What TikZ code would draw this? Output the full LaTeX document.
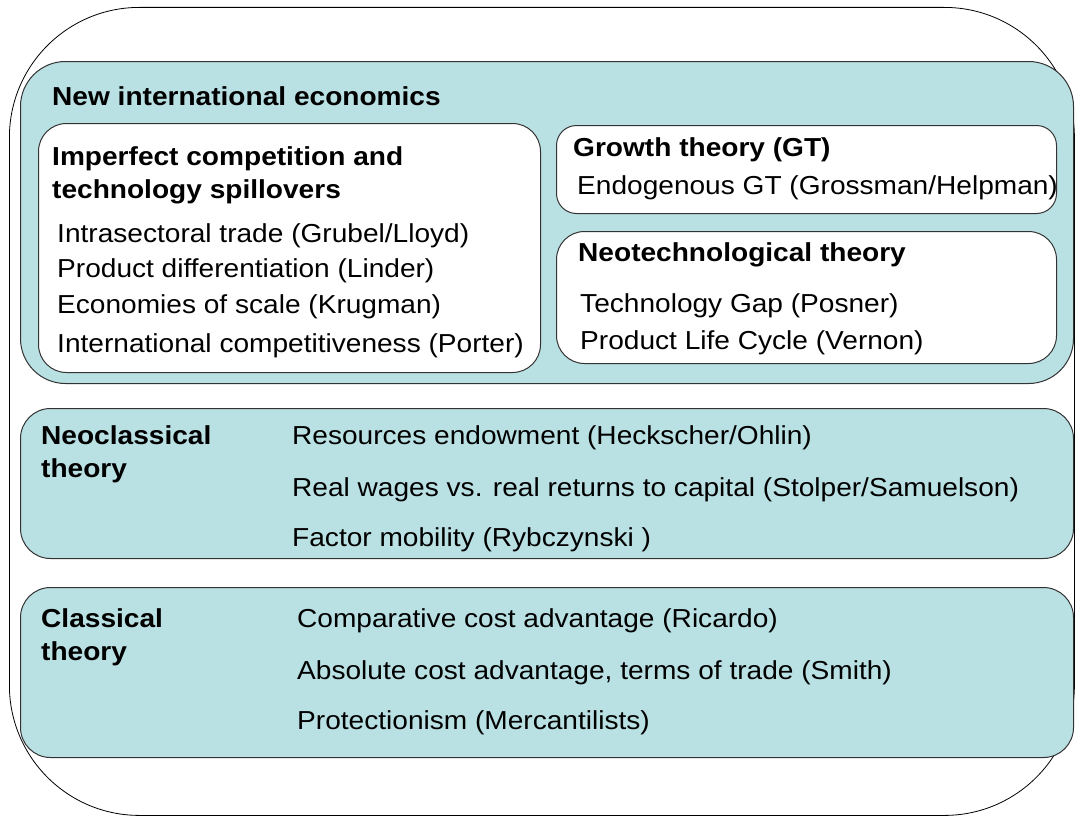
\documentclass[tikz,border=0pt]{standalone}
\usepackage{fontspec}
\setmainfont[FakeStretch=1.08]{Liberation Sans}
\definecolor{panelblue}{RGB}{185,224,227}
\tikzset{
	panel/.style={draw=black!80, fill=panelblue, line width=1pt, rounded corners=45pt, anchor=north west, inner sep=0pt},
	card/.style={draw=black!80, fill=white, line width=1pt, rounded corners=28pt, anchor=north west, inner sep=0pt},
	head/.style={anchor=west, inner sep=0pt, font=\fontsize{26}{33}\selectfont\bfseries, align=left},
	item/.style={anchor=west, inner sep=0pt, font=\fontsize{26}{32}\selectfont}
}
\begin{document}
\begin{tikzpicture}[x=1pt,y=-1pt]
\useasboundingbox (0,0) rectangle (1075,816);

% cadre exterieur
\node[draw=black, line width=0.8pt, rounded corners=130pt, anchor=north west, inner sep=0pt, minimum width=1065pt, minimum height=808pt] (outer) at (9,7) {};

% boites
\node[panel, minimum width=1053pt, minimum height=322pt] (newecon) at (20,61) {};
\node[card, minimum width=502pt, minimum height=249pt] (imperfect) at (38,123) {};
\node[card, rounded corners=20pt, minimum width=500pt, minimum height=88pt] (growth) at (556,125) {};
\node[card, minimum width=500pt, minimum height=132pt] (neotech) at (556,231) {};
\node[panel, rounded corners=30pt, minimum width=1053pt, minimum height=150pt] (neoclass) at (20,408) {};
\node[panel, rounded corners=30pt, minimum width=1053pt, minimum height=170pt] (classic) at (20,587) {};

% textes
\node[head] (t1) at (52,96) {New international economics};
\node[head] (t2) at (52,175) {Imperfect competition and\\technology spillovers};
\node[item] (t3) at (57,236) {Intrasectoral trade (Grubel/Lloyd)};
\node[item] (t4) at (57,271) {Product differentiation (Linder)};
\node[item] (t5) at (57,307) {Economies of scale (Krugman)};
\node[item] (t6) at (57,346) {International competitiveness (Porter)};

\node[head] (t7) at (573,150) {Growth theory (GT)};
\node[item] (t8) at (577,188) {Endogenous GT (Grossman/Helpman)};
\node[head] (t9) at (578,255) {Neotechnological theory};
\node[item] (t10) at (580,306) {Technology Gap (Posner)};
\node[item] (t11) at (580,343) {Product Life Cycle (Vernon)};

\node[head] (t12) at (41,454) {Neoclassical\\theory};
\node[item] (t13) at (292,438) {Resources endowment (Heckscher/Ohlin)};
\node[item] (t14) at (292,490) {Real wages vs. real returns to capital (Stolper/Samuelson)};
\node[item] (t15) at (292,540) {Factor mobility (Rybczynski )};

\node[head] (t16) at (41,637) {Classical\\theory};
\node[item] (t17) at (297,621) {Comparative cost advantage (Ricardo)};
\node[item] (t18) at (297,673) {Absolute cost advantage, terms of trade (Smith)};
\node[item] (t19) at (297,723) {Protectionism (Mercantilists)};

\end{tikzpicture}
\end{document}
